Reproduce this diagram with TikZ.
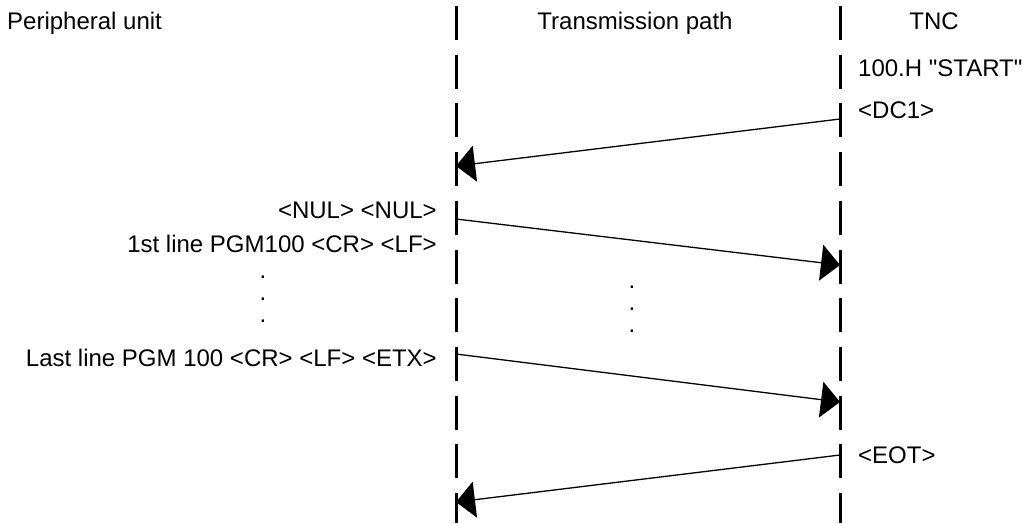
\documentclass[tikz,border=0pt]{standalone}
\usepackage{fontspec}
\setmainfont{Liberation Sans}
\usetikzlibrary{arrows.meta}

\begin{document}
\begin{tikzpicture}[x=1pt, y=-1pt,
  lifeline/.style={line width=3pt, dash pattern=on 34pt off 14.7pt},
  msg/.style={line width=1.3pt, -{Triangle[length=19pt, width=36pt]}},
  txt/.style={font=\fontsize{24}{28}\selectfont, inner sep=0pt},
  vdots/.style={font=\fontsize{24}{22}\selectfont, inner sep=0pt, align=center},
]
  \useasboundingbox (0,0) rectangle (1022,523);

  % column headings
  \node[txt, anchor=base west] (periph) at (7,29) {Peripheral unit};
  \node[txt, anchor=base] (path) at (635,29) {Transmission path};
  \node[txt, anchor=base] (tnc) at (934,29) {TNC};

  % lifelines
  \coordinate (pu top) at (456,6);
  \coordinate (pu bot) at (456,523);
  \coordinate (tnc top) at (840,6);
  \coordinate (tnc bot) at (840,523);
  \draw[lifeline] (pu top) -- (pu bot);
  \draw[lifeline] (tnc top) -- (tnc bot);

  % TNC side
  \node[txt, anchor=base west] (start) at (858,76) {100.H \textquotedbl START\textquotedbl};
  \node[txt, anchor=base west] (dc1) at (858,118) {<DC1>};
  \node[txt, anchor=base west] (eot) at (858,463) {<EOT>};

  % peripheral side
  \node[txt, anchor=base east] (nul) at (437,218) {<NUL> <NUL>};
  \node[txt, anchor=base east] (first) at (437,252) {1st line PGM100 <CR> <LF>};
  \node[vdots] (ldots) at (263,299) {.\\.\\.};
  \node[txt, anchor=base east] (last) at (437,366) {Last line PGM 100 <CR> <LF> <ETX>};

  % transmission path dots
  \node[vdots] (mdots) at (632,309) {.\\.\\.};

  % messages
  \coordinate (dc1 out) at (840,119);
  \coordinate (dc1 in) at (456,166);
  \coordinate (nul out) at (456,219);
  \coordinate (nul in) at (840,265);
  \coordinate (last out) at (456,354);
  \coordinate (last in) at (840,402);
  \coordinate (eot out) at (840,455);
  \coordinate (eot in) at (456,502);
  \draw[msg] (dc1 out) -- (dc1 in);
  \draw[msg] (nul out) -- (nul in);
  \draw[msg] (last out) -- (last in);
  \draw[msg] (eot out) -- (eot in);
\end{tikzpicture}
\end{document}
